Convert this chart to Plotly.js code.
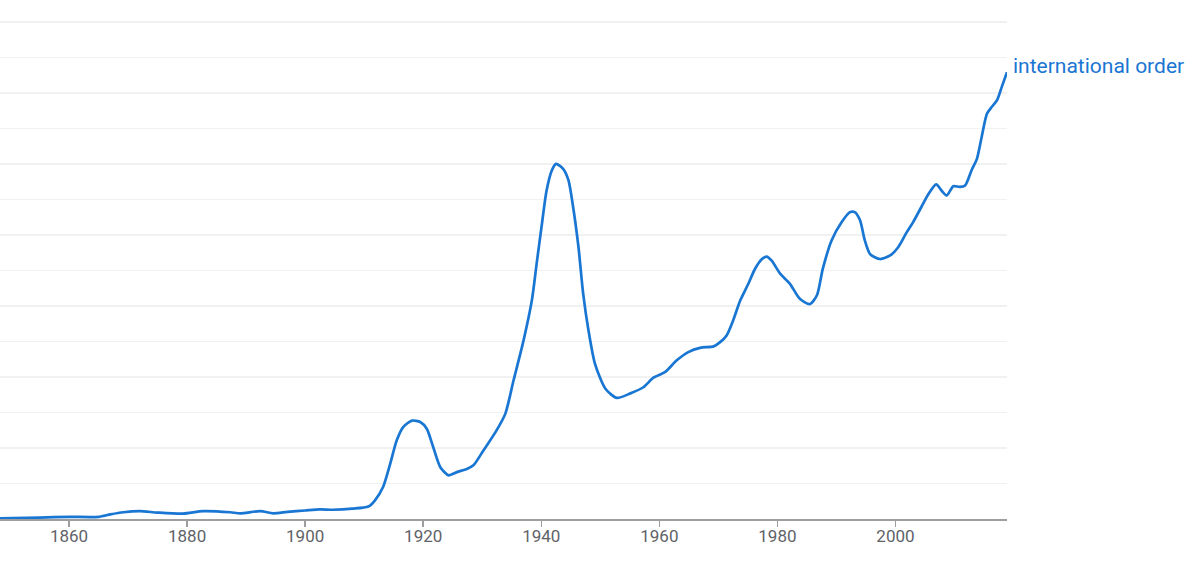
<!DOCTYPE html>
<html>
<head>
<meta charset="utf-8">
<script src="https://cdn.plot.ly/plotly-3.0.1.min.js"></script>
<style>html,body{margin:0;padding:0;background:#fff;}#chart{width:1200px;height:564px;}</style>
</head>
<body>
<div id="chart"></div>
<script>
// Phrase shown in the chart
const seriesName = "international order";

// Years (x)
const years = [
  1848, 1855, 1860, 1865, 1867, 1869.2, 1872, 1875, 1879.3, 1882.7, 1887.3, 1889, 1892.4, 1894.6, 1897,
  1900, 1902.5, 1904.7, 1908, 1910.7, 1911.8, 1913.2, 1914.4, 1915.5, 1916.6, 1918.1, 1919.5, 1920.6,
  1921.7, 1922.9, 1924.3, 1925.7, 1927.4, 1928.5, 1930.2, 1932.4, 1933.9, 1935.3, 1937.0, 1938.4,
  1939.2, 1940.1, 1940.9, 1941.8, 1942.5, 1943.7, 1944.6, 1945.4, 1946.3, 1947.1, 1948.0, 1949.1,
  1950.9, 1952.8, 1955.0, 1957.3, 1959.0, 1961.0, 1962.9, 1964.9, 1966.9, 1969.2, 1970.3, 1971.4,
  1972.5, 1973.7, 1975.1, 1976.2, 1977.4, 1978.2, 1979.0, 1980.5, 1982.1, 1983.8, 1985.5, 1986.7,
  1987.7, 1989.2, 1990.9, 1992.3, 1993.1, 1994.0, 1994.8, 1995.7, 1997.4, 1999.1, 2000.5, 2001.9,
  2003.0, 2004.5, 2005.6, 2006.9, 2007.8, 2008.7, 2009.8, 2010.9, 2011.8, 2012.9, 2013.8, 2014.6,
  2015.5, 2016.3, 2017.2, 2018.0, 2018.9
];

// Relative frequency (one unit = one gridline step)
const values = [
  0.02, 0.04, 0.06, 0.06, 0.13, 0.19, 0.22, 0.18, 0.15, 0.22, 0.19, 0.16, 0.22, 0.16, 0.20,
  0.24, 0.27, 0.26, 0.29, 0.35, 0.52, 0.90, 1.55, 2.21, 2.59, 2.77, 2.73, 2.54,
  2.02, 1.46, 1.23, 1.32, 1.41, 1.51, 1.93, 2.49, 2.96, 3.90, 5.03, 6.15,
  7.17, 8.30, 9.25, 9.82, 10.00, 9.86, 9.54, 8.78, 7.66, 6.34, 5.31, 4.37,
  3.66, 3.41, 3.53, 3.71, 3.98, 4.14, 4.46, 4.70, 4.82, 4.86, 4.98, 5.17,
  5.59, 6.15, 6.63, 7.04, 7.32, 7.39, 7.28, 6.90, 6.63, 6.20, 6.05, 6.30,
  7.05, 7.85, 8.36, 8.64, 8.64, 8.41, 7.85, 7.46, 7.32, 7.42, 7.66, 8.07,
  8.36, 8.82, 9.15, 9.42, 9.25, 9.11, 9.37, 9.35, 9.39, 9.82, 10.14, 10.75,
  11.41, 11.60, 11.79, 12.16, 12.58
];

// X tick labels
const xTicks = [1860, 1880, 1900, 1920, 1940, 1960, 1980, 2000];

const lineColor = '#1976d2';

const trace = {
  x: years,
  y: values,
  type: 'scatter',
  mode: 'lines',
  name: seriesName,
  line: {color: lineColor, width: 2.7, shape: 'spline', smoothing: 0.7},
  hoverinfo: 'x+y'
};

const lastX = years[years.length - 1];
const lastY = values[values.length - 1];

const layout = {
  width: 1200,
  height: 564,
  margin: {l: 0, r: 193, t: 20, b: 45, pad: 0},
  paper_bgcolor: '#ffffff',
  plot_bgcolor: '#ffffff',
  showlegend: false,
  font: {family: 'Roboto, sans-serif'},
  xaxis: {
    range: [1848.3, 2018.9],
    tickmode: 'array',
    tickvals: xTicks,
    ticktext: xTicks.map(String),
    showgrid: false,
    zeroline: false,
    showline: true,
    linecolor: '#9e9e9e',
    linewidth: 1.5,
    ticks: 'outside',
    ticklen: 6,
    tickwidth: 1.5,
    tickcolor: '#9e9e9e',
    ticklabelstandoff: -5,
    tickfont: {family: 'Roboto, sans-serif', size: 17, color: '#5f6368'},
    fixedrange: true
  },
  yaxis: {
    range: [0, 14.05],
    dtick: 1,
    tick0: 0,
    showgrid: true,
    gridcolor: '#f1f1f1',
    gridwidth: 1.5,
    zeroline: false,
    showticklabels: false,
    ticks: '',
    showline: false,
    fixedrange: true
  },
  annotations: [{
    x: lastX,
    y: lastY,
    xref: 'x',
    yref: 'y',
    text: seriesName,
    showarrow: false,
    xanchor: 'left',
    yanchor: 'middle',
    xshift: 4,
    yshift: 6,
    font: {family: 'Roboto, sans-serif', size: 21, color: lineColor}
  }]
};

Plotly.newPlot('chart', [trace], layout, {displayModeBar: false, staticPlot: true});
</script>
</body>
</html>
